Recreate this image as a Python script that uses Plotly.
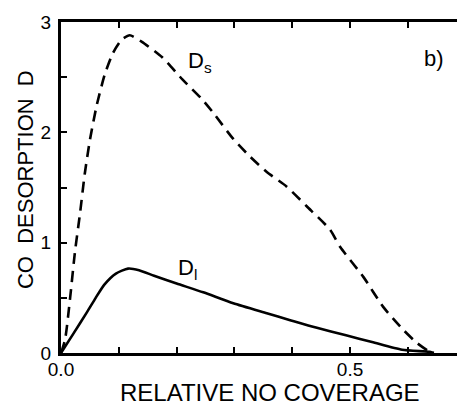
import plotly.graph_objects as go

# D_s (dashed) curve
ds_x = [0.0, 0.007, 0.016, 0.024, 0.033, 0.041, 0.05, 0.062, 0.076, 0.09, 0.105, 0.119, 0.14, 0.175, 0.21,
        0.244, 0.263, 0.298, 0.327, 0.356, 0.39, 0.425, 0.465, 0.483, 0.523, 0.557, 0.592, 0.616, 0.638, 0.645]
ds_y = [0.0, 0.12, 0.51, 0.91, 1.27, 1.62, 1.93, 2.25, 2.53, 2.72, 2.84, 2.88, 2.82, 2.68, 2.48,
        2.3, 2.18, 1.94, 1.78, 1.64, 1.51, 1.33, 1.12, 0.96, 0.69, 0.42, 0.21, 0.09, 0.01, 0.0]

# D_l (solid) curve
dl_x = [0.0, 0.022, 0.045, 0.06, 0.075, 0.095, 0.116, 0.135, 0.161, 0.2, 0.246, 0.298, 0.356, 0.395, 0.441, 0.493, 0.538, 0.59, 0.638, 0.645]
dl_y = [0.0, 0.18, 0.37, 0.5, 0.62, 0.72, 0.765, 0.75, 0.7, 0.63, 0.55, 0.45, 0.36, 0.30, 0.23, 0.16, 0.10, 0.03, 0.01, 0.0]

x_tickvals = [0.0, 0.5]
x_ticktext = ["0.0", "0.5"]
y_tickvals = [0, 1, 2, 3]
y_ticktext = ["0", "1", "2", "3"]

font = "Liberation Sans"

fig = go.Figure()
fig.add_trace(go.Scatter(x=ds_x, y=ds_y, mode="lines",
                         line=dict(color="black", width=2.6, dash="11px,7px", shape="spline", smoothing=0.6)))
fig.add_trace(go.Scatter(x=dl_x, y=dl_y, mode="lines",
                         line=dict(color="black", width=2.6, shape="spline", smoothing=0.6)))

fig.add_annotation(x=0.24, y=2.64, text="D<sub>s</sub>", showarrow=False,
                   font=dict(family=font, size=22, color="black"))
fig.add_annotation(x=0.218, y=0.76, text="D<sub>l</sub>", showarrow=False,
                   font=dict(family=font, size=22, color="black"))
fig.add_annotation(x=0.645, y=2.67, text="b)", showarrow=False,
                   font=dict(family=font, size=22, color="black"))

# axis titles as paper annotations
fig.add_annotation(xref="paper", yref="paper", x=0.528, y=-0.118, yanchor="middle",
                   text="RELATIVE NO COVERAGE", showarrow=False, borderpad=0,
                   font=dict(family=font, size=24, color="black"))
fig.add_annotation(xref="paper", yref="paper", x=-0.088, y=0.523, xanchor="center", yanchor="middle",
                   text="CO  DESORPTION  D", textangle=-90, showarrow=False, borderpad=0,
                   font=dict(family=font, size=22, color="black"))

fig.update_layout(
    width=457, height=405,
    margin=dict(l=61, r=0, t=22, b=52),
    paper_bgcolor="white", plot_bgcolor="white",
    showlegend=False,
    font=dict(family=font, color="black"),
)
fig.update_xaxes(
    range=[0, 0.685], showgrid=False, zeroline=False,
    showline=True, linecolor="black", linewidth=3, mirror="ticks",
    ticks="inside", ticklen=6, tickwidth=2, tickcolor="black",
    tickvals=x_tickvals, ticktext=x_ticktext,
    minor=dict(tick0=0, dtick=0.1, ticks="inside", ticklen=6, tickwidth=2, tickcolor="black", showgrid=False),
    tickfont=dict(family=font, size=19, color="black"),
    ticklabelstandoff=-3,
)
fig.update_yaxes(
    range=[0, 3], showgrid=False, zeroline=False,
    showline=True, linecolor="black", linewidth=3,
    ticks="inside", ticklen=6, tickwidth=2, tickcolor="black",
    tickvals=y_tickvals, ticktext=y_ticktext,
    minor=dict(tick0=0, dtick=0.5, ticks="inside", ticklen=6, tickwidth=2, tickcolor="black", showgrid=False),
    tickfont=dict(family=font, size=19, color="black"),
    ticklabelstandoff=3,
)

fig.write_html("out.html", config={"displayModeBar": False},
               post_script="document.body.style.margin='0';document.body.style.overflow='hidden';")
